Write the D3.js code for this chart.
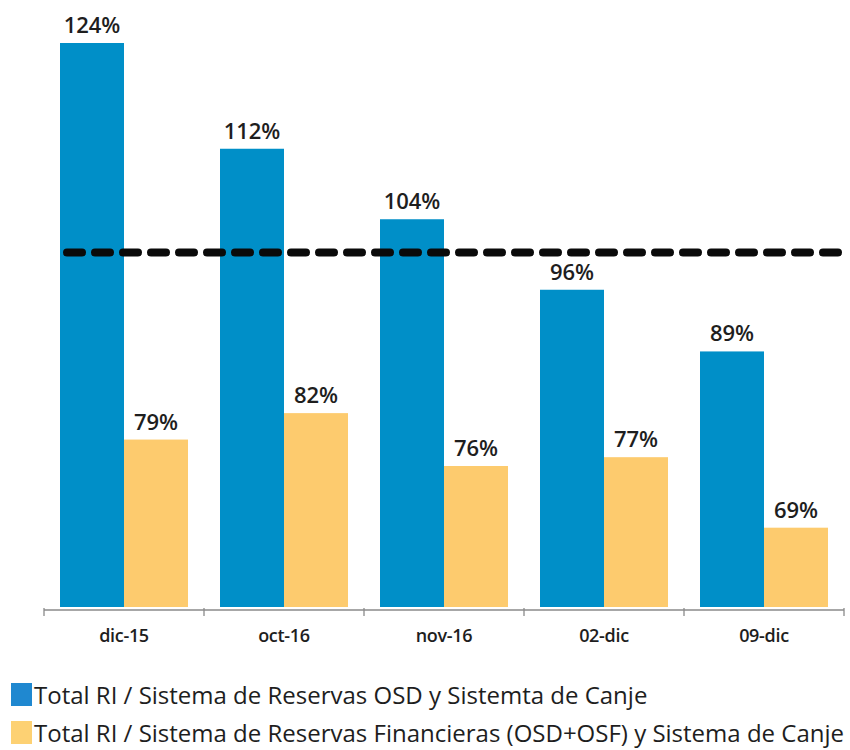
<!DOCTYPE html>
<html>
<head>
<meta charset="utf-8">
<script src="https://cdn.jsdelivr.net/npm/d3@7"></script>
<style>
  html, body { margin: 0; padding: 0; background: #fff; }
  svg { display: block; }
  text { font-family: "Open Sans", "Noto Sans", sans-serif; fill: #1e1e1e; }
</style>
</head>
<body>
<svg id="chart" width="850" height="750"></svg>
<script>
const categories = ["dic-15", "oct-16", "nov-16", "02-dic", "09-dic"];
const seriesNames = [
  "Total RI / Sistema de Reservas OSD y Sistemta de Canje",
  "Total RI / Sistema de Reservas Financieras (OSD+OSF) y Sistema de Canje"
];
const seriesOSD = [124, 112, 104, 96, 89];
const seriesFin = [79, 82, 76, 77, 69];
const referenceLevel = 100;
const colors = ["#008fc8", "#fdcb6e"];
const legendColors = ["#1f88d0", "#fdd173"];

const svg = d3.select("#chart");
const x0 = d3.scaleBand().domain(categories).range([44, 844]).paddingInner(0.2).paddingOuter(0.1);
const x1 = d3.scaleBand().domain([0, 1]).range([0, x0.bandwidth()]);
const y = d3.scaleLinear().domain([60, 124]).range([607, 43]);

const data = categories.map((c, i) => ({ cat: c, vals: [seriesOSD[i], seriesFin[i]] }));

const g = svg.append("g");
const groups = g.selectAll("g.grp").data(data).join("g")
  .attr("transform", d => `translate(${x0(d.cat)},0)`);

groups.selectAll("rect").data(d => d.vals.map((v, k) => ({ v, k }))).join("rect")
  .attr("x", d => x1(d.k))
  .attr("y", d => y(d.v))
  .attr("width", x1.bandwidth())
  .attr("height", d => y.range()[0] - y(d.v))
  .attr("fill", d => colors[d.k]);

groups.selectAll("text.lbl").data(d => d.vals.map((v, k) => ({ v, k }))).join("text")
  .attr("class", "lbl")
  .attr("x", d => x1(d.k) + x1.bandwidth() / 2)
  .attr("y", d => y(d.v) - 10)
  .attr("text-anchor", "middle")
  .style("font-size", "22px")
  .style("font-weight", 600)
  .text(d => d.v + "%");

// axis
const step = x0.step();
const axisY = 610;
const bounds = d3.range(categories.length + 1).map(i => 44 + i * step);
g.append("line").attr("x1", 44).attr("x2", 844).attr("y1", axisY).attr("y2", axisY)
  .attr("stroke", "#8a8a8a").attr("stroke-width", 1.3);
g.selectAll("line.tick").data(bounds).join("line").attr("class", "tick")
  .attr("x1", d => d).attr("x2", d => d).attr("y1", axisY - 2).attr("y2", axisY + 6)
  .attr("stroke", "#8a8a8a").attr("stroke-width", 1.3);
g.selectAll("text.cat").data(categories).join("text").attr("class", "cat")
  .attr("x", d => x0(d) + x0.bandwidth() / 2)
  .attr("y", 642)
  .attr("text-anchor", "middle")
  .style("font-size", "18px")
  .style("font-weight", 600)
  .style("letter-spacing", "-0.3px")
  .text(d => d);

// reference dashed line
g.append("line")
  .attr("x1", 67).attr("x2", 841)
  .attr("y1", y(referenceLevel) - 2).attr("y2", y(referenceLevel) - 2)
  .attr("stroke", "#0a0a0a").attr("stroke-width", 8)
  .attr("stroke-dasharray", "15 13")
  .attr("stroke-linecap", "round");

// legend
const leg = svg.append("g");
seriesNames.forEach((name, i) => {
  const ly = 683 + i * 38;
  leg.append("rect").attr("x", 11).attr("y", ly).attr("width", 21).attr("height", 23)
    .attr("fill", legendColors[i]);
  leg.append("text").attr("x", 34).attr("y", ly + 21)
    .style("font-size", "24px").style("font-weight", 500)
    .text(name);
});
</script>
</body>
</html>
